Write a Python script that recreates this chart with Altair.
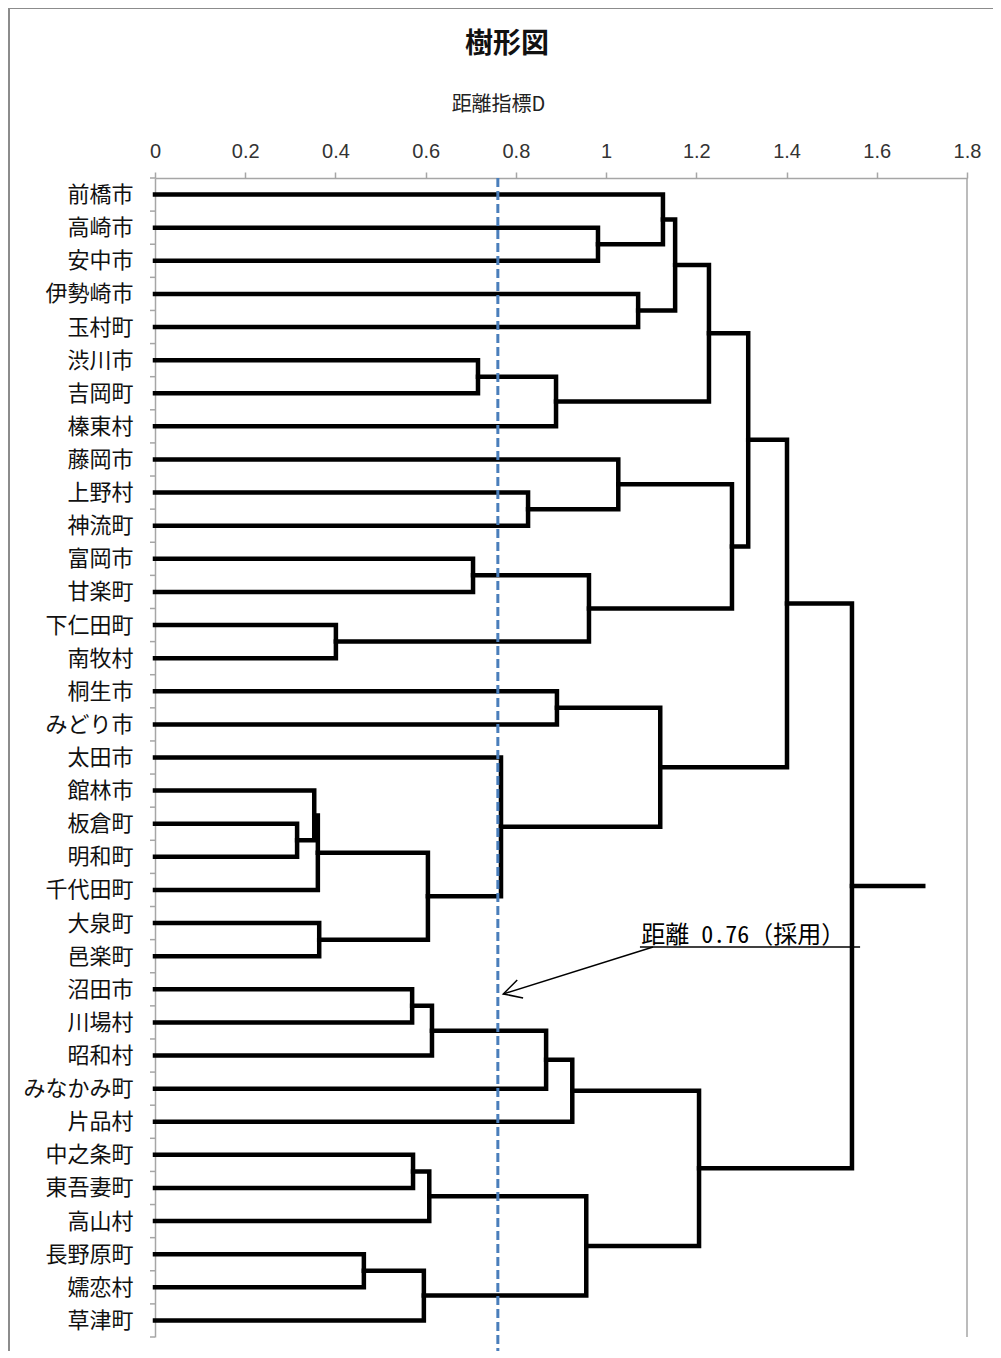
import json
import altair as alt
import pandas as pd

# ---------------- data ----------------
leaves = ["前橋市", "高崎市", "安中市", "伊勢崎市", "玉村町", "渋川市", "吉岡町", "榛東村",
          "藤岡市", "上野村", "神流町", "富岡市", "甘楽町", "下仁田町", "南牧村", "桐生市",
          "みどり市", "太田市", "館林市", "板倉町", "明和町", "千代田町", "大泉町", "邑楽町",
          "沼田市", "川場村", "昭和村", "みなかみ町", "片品村", "中之条町", "東吾妻町", "高山村",
          "長野原町", "嬬恋村", "草津町"]

# merge k joins node merge_a[k] and merge_b[k] (leaves 0..34, merged nodes 35+k) at height merge_h[k]
merge_a = [1, 0, 3, 36, 5, 39, 38, 9, 8, 11, 13, 44, 43, 41, 15, 19, 18, 51, 22, 52, 17, 49, 48,
           24, 58, 59, 60, 29, 62, 32, 64, 63, 61, 57]
merge_b = [2, 35, 4, 37, 6, 7, 40, 10, 42, 12, 14, 45, 46, 47, 16, 20, 50, 21, 23, 53, 54, 55, 56,
           25, 26, 27, 28, 30, 31, 33, 34, 65, 66, 67]
merge_h = [0.982, 1.126, 1.071, 1.153, 0.716, 0.889, 1.228, 0.827, 1.027, 0.705, 0.401, 0.962,
           1.279, 1.315, 0.891, 0.315, 0.353, 0.361, 0.364, 0.605, 0.767, 1.120, 1.401,
           0.570, 0.614, 0.867, 0.925, 0.572, 0.608, 0.463, 0.596, 0.956, 1.206, 1.545]
root_tail = 1.703
cut_height = 0.76
x_ticks = [0, 0.2, 0.4, 0.6, 0.8, 1.0, 1.2, 1.4, 1.6, 1.8]

chart_title = "樹形図"
annot_text = "距離 0.76（採用）"
annot_text_pos = (1.078, 22.6)
annot_underline = [(1.075, 22.72), (1.563, 22.72)]
annot_arrow = [(1.104, 22.72), (0.772, 24.14)]
annot_head = [(0.803, 23.72), (0.772, 24.14), (0.816, 24.26)]

# ---------------- build dendrogram paths ----------------
n = len(leaves)
pos = {i: float(i) for i in range(n)}
hgt = {i: 0.0 for i in range(n)}
rows = []
for k, (a, b, h) in enumerate(zip(merge_a, merge_b, merge_h)):
    pts = [(hgt[a], pos[a]), (h, pos[a]), (h, pos[b]), (hgt[b], pos[b])]
    for j, (xv, yv) in enumerate(pts):
        rows.append({"seg": k, "ord": j, "x": xv, "y": yv})
    pos[n + k] = (pos[a] + pos[b]) / 2
    hgt[n + k] = h
root = n + len(merge_h) - 1
rows.append({"seg": 999, "ord": 0, "x": hgt[root], "y": pos[root]})
rows.append({"seg": 999, "ord": 1, "x": root_tail, "y": pos[root]})
tree_df = pd.DataFrame(rows)

FONT_JP = "Noto Sans CJK JP"
GREY = "#a6a6a6"

label_expr = "{}[round(datum.value)]".format(json.dumps(leaves, ensure_ascii=False))

xscale = alt.Scale(domain=[0, 1.8], nice=False, zero=False)
yscale = alt.Scale(domain=[-0.5, n - 0.5], reverse=True, nice=False, zero=False)

xaxis = alt.Axis(orient="top", values=x_ticks, format="~g", grid=False, labelFlush=False,
                 title="距離指標D", titleFont=FONT_JP, titleFontSize=20, titleFontWeight="normal",
                 titleColor="#222", titleX=343, titleY=-64, titleBaseline="bottom", titleAlign="center",
                 titleAngle=0,
                 labelFont="Liberation Sans", labelFontSize=20, labelColor="#333",
                 labelPadding=11, tickSize=6, tickColor=GREY, tickWidth=1.5,
                 domainColor=GREY, domainWidth=1.5)
yaxis = alt.Axis(orient="left", values=list(range(n)), labelExpr=label_expr, grid=False, title=None,
                 labelFont=FONT_JP, labelFontSize=22, labelColor="#111", labelPadding=22,
                 tickSize=0, domainColor=GREY, domainWidth=1.5)


def X(field="x"):
    return alt.X(f"{field}:Q", scale=xscale, axis=xaxis)


def Y(field="y"):
    return alt.Y(f"{field}:Q", scale=yscale, axis=yaxis)


# ---------------- layers ----------------
frame = alt.Chart(pd.DataFrame({"a": [0]})).mark_rect(
    fill=None, stroke="#8c8c8c", strokeWidth=2
).encode(x=alt.value(-146), x2=alt.value(860), y=alt.value(-170), y2=alt.value(1300))

title = alt.Chart(pd.DataFrame({"t": [chart_title]})).mark_text(
    font=FONT_JP, fontSize=28, fontWeight="bold", color="#111", align="center", baseline="middle"
).encode(text="t:N", x=alt.value(352), y=alt.value(-133))

right_border = alt.Chart(pd.DataFrame({"x": [1.8], "y": [-0.5], "y2": [n - 0.5]})).mark_rule(
    color=GREY, strokeWidth=1.5
).encode(x=X(), y=Y(), y2="y2:Q")

ytick_df = pd.DataFrame({"y": [i - 0.5 for i in range(n + 1)]})
yticks = alt.Chart(ytick_df).mark_rule(color=GREY, strokeWidth=1.5).encode(
    y=Y(), x=alt.value(-5), x2=alt.value(0)
)

tree = alt.Chart(tree_df).mark_line(
    color="black", strokeWidth=4.5, strokeJoin="miter", strokeCap="square"
).encode(x=X(), y=Y(), detail="seg:N", order="ord:Q")

cut_df = pd.DataFrame({"x": [cut_height], "y": [-0.5], "y2": [n + 0.65]})
cut = alt.Chart(cut_df).mark_rule(color="#4a7ebb", strokeWidth=3, strokeDash=[9, 4]).encode(
    x=X(), y=Y(), y2="y2:Q"
)

ul_df = pd.DataFrame({"x": [annot_underline[0][0]], "x2": [annot_underline[1][0]],
                      "y": [annot_underline[0][1]]})
underline = alt.Chart(ul_df).mark_rule(color="black", strokeWidth=1.5).encode(
    x=X(), x2="x2:Q", y=Y()
)

arrow_rows = [{"g": 0, "o": i, "x": p[0], "y": p[1]} for i, p in enumerate(annot_arrow)]
arrow_rows += [{"g": 1, "o": i, "x": p[0], "y": p[1]} for i, p in enumerate(annot_head)]
arrow = alt.Chart(pd.DataFrame(arrow_rows)).mark_line(
    color="black", strokeWidth=1.5, strokeJoin="miter"
).encode(x=X(), y=Y(), detail="g:N", order="o:Q")

txt_df = pd.DataFrame({"x": [annot_text_pos[0]], "y": [annot_text_pos[1]], "t": [annot_text]})
annot = alt.Chart(txt_df).mark_text(
    align="left", baseline="alphabetic", font="Noto Sans Mono CJK JP, Noto Sans CJK JP",
    fontSize=24, color="black"
).encode(x=X(), y=Y(), text="t:N")

chart = alt.layer(frame, title, right_border, yticks, tree, cut, underline, arrow, annot).properties(
    width=812, height=1159,
    padding={"left": 147, "top": 170, "right": 26, "bottom": 14},
    autosize=alt.AutoSizeParams(type="none"),
).configure_view(stroke=None)

chart.save("out.html", embed_options={"renderer": "svg", "actions": False})
